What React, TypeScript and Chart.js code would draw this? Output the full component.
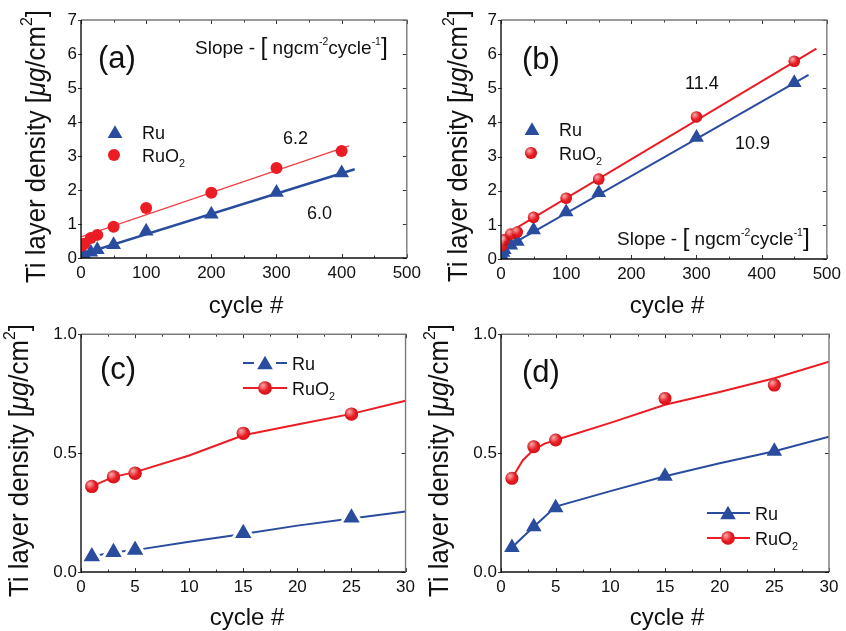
import React, { useEffect, useRef } from 'react';
import { Chart, registerables } from 'chart.js';
Chart.register(...registerables);

const BLUE = '#2a4c9e';
const RED = '#ec1c24';
const FAMILY = "'Liberation Sans', Arial, sans-serif";

// ---------- Panel (a) ----------
const cyclesA = [1, 3, 5, 15, 25, 50, 100, 200, 300, 400];
const ruA = [0.07, 0.08, 0.09, 0.17, 0.24, 0.39, 0.79, 1.29, 1.93, 2.5];
const ruo2A = [0.36, 0.4, 0.42, 0.59, 0.68, 0.92, 1.47, 1.92, 2.65, 3.15];
const fitRuCyclesA = [0, 420];
const fitRuA = [0.1, 2.61];
const fitRuo2CyclesA = [0, 411];
const fitRuo2A = [0.62, 3.3];

// ---------- Panel (b) ----------
const cyclesB = [1, 3, 5, 15, 25, 50, 100, 150, 300, 450];
const ruB = [0.1, 0.19, 0.27, 0.4, 0.51, 0.85, 1.38, 1.94, 3.56, 5.16];
const ruo2B = [0.39, 0.53, 0.56, 0.73, 0.79, 1.22, 1.78, 2.34, 4.16, 5.79];
const fitRuCyclesB = [0, 472];
const fitRuB = [0.25, 5.39];
const fitRuo2CyclesB = [0, 484];
const fitRuo2B = [0.64, 6.16];

// ---------- Panel (c) ----------
const cyclesC = [1, 3, 5, 15, 25];
const ruC = [0.065, 0.083, 0.092, 0.163, 0.228];
const ruo2C = [0.36, 0.4, 0.415, 0.583, 0.664];
const fitCyclesC = [1, 3, 5, 10, 15, 20, 25, 30];
const fitRuC = [0.065, 0.083, 0.092, 0.127, 0.16, 0.195, 0.225, 0.254];
const fitRuo2C = [0.36, 0.4, 0.42, 0.49, 0.575, 0.62, 0.665, 0.72];

// ---------- Panel (d) ----------
const cyclesD = [1, 3, 5, 15, 25];
const ruD = [0.103, 0.19, 0.27, 0.403, 0.508];
const ruo2D = [0.394, 0.527, 0.555, 0.73, 0.786];
const fitCyclesD = [1, 2, 3, 4, 5, 10, 15, 20, 25, 30];
const fitRuD = [0.103, 0.147, 0.19, 0.232, 0.275, 0.34, 0.403, 0.457, 0.508, 0.569];
const fitRuo2D = [0.394, 0.47, 0.515, 0.54, 0.555, 0.627, 0.703, 0.757, 0.815, 0.884];

// tick labels
const xTicksAB = [0, 100, 200, 300, 400, 500];
const yTicksAB = [0, 1, 2, 3, 4, 5, 6, 7];
const xTicksCD = [0, 5, 10, 15, 20, 25, 30];
const yTicksCD = ['0.0', '0.5', '1.0'];

type Seg = { t: string; k?: number; dy?: number; it?: boolean };

const fnt = (size: number, it?: boolean) => `${it ? 'italic ' : ''}${size}px ${FAMILY}`;

function richWidth(ctx: CanvasRenderingContext2D, segs: Seg[], size: number) {
  let w = 0;
  for (const s of segs) {
    ctx.font = fnt(size * (s.k ?? 1), s.it);
    w += ctx.measureText(s.t).width;
  }
  return w;
}

function drawRich(ctx: CanvasRenderingContext2D, x: number, y: number, segs: Seg[], size: number, align = 'left') {
  const w = richWidth(ctx, segs, size);
  let cx = align === 'center' ? x - w / 2 : align === 'right' ? x - w : x;
  ctx.textBaseline = 'alphabetic';
  ctx.textAlign = 'left';
  for (const s of segs) {
    ctx.font = fnt(size * (s.k ?? 1), s.it);
    ctx.fillText(s.t, cx, y + (s.dy ?? 0) * size);
    cx += ctx.measureText(s.t).width;
  }
}

const ruo2Segs: Seg[] = [{ t: 'RuO' }, { t: '2', k: 0.6, dy: 0.32 }];
const ruSegs: Seg[] = [{ t: 'Ru' }];
const slopeSegs: Seg[] = [
  { t: 'Slope - ' },
  { t: '[', k: 1.3, dy: 0.08 },
  { t: ' ngcm' },
  { t: '-2', k: 0.55, dy: -0.45 },
  { t: 'cycle' },
  { t: '-1', k: 0.55, dy: -0.45 },
  { t: ']', k: 1.3, dy: 0.08 },
];
const yTitleSegs: Seg[] = [
  { t: 'Ti layer density [' },
  { t: 'μg', it: true },
  { t: '/cm' },
  { t: '2', k: 0.62, dy: -0.48 },
  { t: ']' },
];

function triPath(ctx: CanvasRenderingContext2D, x: number, y: number, r: number) {
  const s = Math.sin(Math.PI * 2 / 3) * r;
  ctx.beginPath();
  ctx.moveTo(x, y - r);
  ctx.lineTo(x + s, y + r / 2);
  ctx.lineTo(x - s, y + r / 2);
  ctx.closePath();
}

function sphereHighlight(ctx: CanvasRenderingContext2D, x: number, y: number, r: number) {
  ctx.save();
  ctx.beginPath();
  ctx.arc(x, y, r, 0, Math.PI * 2);
  ctx.clip();
  const g = ctx.createRadialGradient(x - r * 0.35, y - r * 0.4, 0, x - r * 0.35, y - r * 0.4, r * 0.9);
  g.addColorStop(0, 'rgba(255,200,200,0.85)');
  g.addColorStop(1, 'rgba(255,200,200,0)');
  ctx.fillStyle = g;
  ctx.fillRect(x - r, y - r, 2 * r, 2 * r);
  const g2 = ctx.createRadialGradient(x, y, r * 0.5, x, y, r);
  g2.addColorStop(0, 'rgba(150,0,0,0)');
  g2.addColorStop(1, 'rgba(150,0,0,0.35)');
  ctx.fillStyle = g2;
  ctx.fillRect(x - r, y - r, 2 * r, 2 * r);
  ctx.restore();
}

type Legend = { type: 'tri' | 'circ'; x: number; y: number; r: number; color: string; segs: Seg[]; tx: number; line?: [number, number]; lw?: number; gap?: number };
type Txt = { x: number; y: number; segs: Seg[]; size: number };

type PanelCfg = {
  left: number; top: number; w: number; h: number;
  pl: number; pr: number; pt: number; pb: number;
  xMin: number; xMax: number; xMajor: number; xMinor: number; xTicks: (number | string)[];
  yMin: number; yMax: number; yMajor: number; yTicks: (number | string)[];
  datasets: any[];
  texts: Txt[];
  legends: Legend[];
  yTitle: { bx: number; by: number; len: number };
  xTitle: { cx: number; by: number };
  sphere: boolean;
};

function makeDecor(cfg: PanelCfg) {
  return {
    id: 'decor',
    afterDatasetsDraw(chart: any) {
      if (!cfg.sphere) return;
      const ctx = chart.ctx;
      const ca = chart.chartArea;
      ctx.save();
      ctx.beginPath();
      ctx.rect(ca.left, ca.top, ca.right - ca.left, ca.bottom - ca.top);
      ctx.clip();
      chart.data.datasets.forEach((ds: any, i: number) => {
        if (!ds.sphere) return;
        const meta = chart.getDatasetMeta(i);
        meta.data.forEach((p: any) => sphereHighlight(ctx, p.x, p.y, ds.pointRadius));
      });
      ctx.restore();
    },
    afterDraw(chart: any) {
      const ctx: CanvasRenderingContext2D = chart.ctx;
      const ca = chart.chartArea;
      const xs = chart.scales.x;
      const ys = chart.scales.y;
      ctx.save();
      // ticks
      ctx.lineWidth = 1;
      ctx.strokeStyle = '#333';
      const nX = Math.round((cfg.xMax - cfg.xMin) / cfg.xMinor);
      for (let i = 0; i <= nX; i++) {
        const v = cfg.xMin + i * cfg.xMinor;
        const px = Math.round(xs.getPixelForValue(v)) + 0.5;
        const major = Math.abs(v / cfg.xMajor - Math.round(v / cfg.xMajor)) < 1e-6;
        const len = major ? 4 : 2.5;
        ctx.beginPath();
        ctx.moveTo(px, ca.bottom); ctx.lineTo(px, ca.bottom - len);
        ctx.moveTo(px, ca.top); ctx.lineTo(px, ca.top + len);
        ctx.stroke();
      }
      const nY = Math.round((cfg.yMax - cfg.yMin) / cfg.yMajor);
      for (let i = 0; i <= nY; i++) {
        const v = cfg.yMin + i * cfg.yMajor;
        const py = Math.round(ys.getPixelForValue(v)) + 0.5;
        ctx.beginPath();
        ctx.moveTo(ca.left - 3, py); ctx.lineTo(ca.left + 1, py);
        ctx.moveTo(ca.right, py); ctx.lineTo(ca.right - 4, py);
        ctx.stroke();
      }
      // frame
      ctx.lineWidth = 1.4;
      ctx.strokeStyle = '#7a7a7a';
      ctx.beginPath();
      ctx.moveTo(ca.left, ca.top); ctx.lineTo(ca.right, ca.top); ctx.lineTo(ca.right, ca.bottom);
      ctx.stroke();
      ctx.strokeStyle = '#111';
      ctx.beginPath();
      ctx.moveTo(ca.left, ca.top); ctx.lineTo(ca.left, ca.bottom); ctx.lineTo(ca.right, ca.bottom);
      ctx.stroke();

      ctx.fillStyle = '#111';
      // x title
      drawRich(ctx, cfg.xTitle.cx, cfg.xTitle.by, [{ t: 'cycle #' }], 24, 'center');
      // y title
      ctx.save();
      ctx.translate(cfg.yTitle.bx, cfg.yTitle.by);
      ctx.rotate(-Math.PI / 2);
      const size = 27;
      const w = richWidth(ctx, yTitleSegs, size);
      ctx.scale(cfg.yTitle.len / w, 1);
      drawRich(ctx, 0, 0, yTitleSegs, size, 'left');
      ctx.restore();
      // texts
      for (const t of cfg.texts) drawRich(ctx, t.x, t.y, t.segs, t.size, 'left');
      // legends
      for (const l of cfg.legends) {
        if (l.line) {
          ctx.strokeStyle = l.color;
          ctx.lineWidth = l.lw ?? 2;
          const g = l.gap ?? 0;
          ctx.beginPath();
          if (g > 0) {
            ctx.moveTo(l.line[0], l.y); ctx.lineTo(l.x - g, l.y);
            ctx.moveTo(l.x + g, l.y); ctx.lineTo(l.line[1], l.y);
          } else {
            ctx.moveTo(l.line[0], l.y); ctx.lineTo(l.line[1], l.y);
          }
          ctx.stroke();
        }
        ctx.fillStyle = l.color;
        if (l.type === 'tri') {
          triPath(ctx, l.x, l.y + l.r * 0.2, l.r);
          ctx.fill();
        } else {
          ctx.beginPath();
          ctx.arc(l.x, l.y, l.r, 0, Math.PI * 2);
          ctx.fill();
          if (cfg.sphere) sphereHighlight(ctx, l.x, l.y, l.r);
        }
        ctx.fillStyle = '#111';
        drawRich(ctx, l.tx, l.y + 6.5, l.segs, 18, 'left');
      }
      ctx.restore();
    },
  };
}

function pts(xs: number[], ys: number[]) {
  return xs.map((x, i) => ({ x, y: ys[i] }));
}

function markerSet(xs: number[], ys: number[], color: string, style: string, r: number, sphere = false, order = 0, halo = 0) {
  return {
    data: pts(xs, ys),
    showLine: false,
    pointStyle: style,
    pointRadius: r + halo,
    pointBackgroundColor: color,
    pointBorderWidth: halo,
    pointBorderColor: halo > 0 ? '#ffffff' : color,
    order,
    sphere,
  };
}

function lineSet(xs: number[], ys: number[], color: string, width: number) {
  return {
    data: pts(xs, ys),
    showLine: true,
    borderColor: color,
    borderWidth: width,
    pointRadius: 0,
    fill: false,
    tension: 0,
    order: 5,
  };
}

const panels: PanelCfg[] = [
  {
    left: 0, top: 0, w: 426, h: 320,
    pl: 81, pr: 408, pt: 20, pb: 258,
    xMin: 0, xMax: 500, xMajor: 100, xMinor: 50, xTicks: xTicksAB,
    yMin: 0, yMax: 7, yMajor: 1, yTicks: yTicksAB,
    datasets: [
      markerSet(cyclesA, ruo2A, RED, 'circle', 6, false, 0),
      markerSet(cyclesA, ruA, BLUE, 'triangle', 8.5, false, 1),
      lineSet(fitRuCyclesA, fitRuA, BLUE, 2.4),
      lineSet(fitRuo2CyclesA, fitRuo2A, '#f03c44', 1.3),
    ],
    texts: [
      { x: 98, y: 68, segs: [{ t: '(a)' }], size: 31 },
      { x: 195, y: 53.5, segs: slopeSegs, size: 19 },
      { x: 283, y: 143.5, segs: [{ t: '6.2' }], size: 18 },
      { x: 307, y: 218.5, segs: [{ t: '6.0' }], size: 18 },
    ],
    legends: [
      { type: 'tri', x: 115, y: 132, r: 8.5, color: BLUE, segs: ruSegs, tx: 142 },
      { type: 'circ', x: 114, y: 155, r: 6, color: RED, segs: ruo2Segs, tx: 142 },
    ],
    yTitle: { bx: 45, by: 283, len: 273 },
    xTitle: { cx: 246, by: 313 },
    sphere: false,
  },
  {
    left: 420, top: 0, w: 426, h: 320,
    pl: 81, pr: 409, pt: 20, pb: 259,
    xMin: 0, xMax: 500, xMajor: 100, xMinor: 50, xTicks: xTicksAB,
    yMin: 0, yMax: 7, yMajor: 1, yTicks: yTicksAB,
    datasets: [
      markerSet(cyclesB, ruo2B, RED, 'circle', 5.8, true, 0),
      markerSet(cyclesB, ruB, BLUE, 'triangle', 8.5, false, 1),
      lineSet(fitRuCyclesB, fitRuB, BLUE, 2),
      lineSet(fitRuo2CyclesB, fitRuo2B, RED, 2),
    ],
    texts: [
      { x: 102, y: 69, segs: [{ t: '(b)' }], size: 31 },
      { x: 265, y: 88.5, segs: [{ t: '11.4' }], size: 18 },
      { x: 315, y: 148.5, segs: [{ t: '10.9' }], size: 18 },
      { x: 197, y: 244.5, segs: slopeSegs, size: 19 },
    ],
    legends: [
      { type: 'tri', x: 112, y: 129, r: 8.5, color: BLUE, segs: ruSegs, tx: 139 },
      { type: 'circ', x: 111, y: 153, r: 6, color: RED, segs: ruo2Segs, tx: 139 },
    ],
    yTitle: { bx: 47, by: 282, len: 272 },
    xTitle: { cx: 247, by: 313 },
    sphere: true,
  },
  {
    left: 0, top: 320, w: 420, h: 311,
    pl: 81, pr: 409, pt: 14, pb: 252,
    xMin: 0, xMax: 30, xMajor: 5, xMinor: 2.5, xTicks: xTicksCD,
    yMin: 0, yMax: 1, yMajor: 0.5, yTicks: yTicksCD,
    datasets: [
      markerSet(cyclesC, ruo2C, RED, 'circle', 6.7, true, 0),
      markerSet(cyclesC, ruC, BLUE, 'triangle', 9.5, false, 1, 3),
      lineSet(fitCyclesC, fitRuC, BLUE, 2),
      lineSet(fitCyclesC, fitRuo2C, RED, 2),
    ],
    texts: [{ x: 100, y: 59, segs: [{ t: '(c)' }], size: 31 }],
    legends: [
      { type: 'tri', x: 265, y: 43, r: 9, color: BLUE, segs: ruSegs, tx: 292, line: [243, 287], gap: 11 },
      { type: 'circ', x: 265, y: 68, r: 6.8, color: RED, segs: ruo2Segs, tx: 292, line: [243, 287] },
    ],
    yTitle: { bx: 28, by: 277, len: 273 },
    xTitle: { cx: 247, by: 305 },
    sphere: true,
  },
  {
    left: 420, top: 320, w: 426, h: 311,
    pl: 81, pr: 409, pt: 14, pb: 252,
    xMin: 0, xMax: 30, xMajor: 5, xMinor: 2.5, xTicks: xTicksCD,
    yMin: 0, yMax: 1, yMajor: 0.5, yTicks: yTicksCD,
    datasets: [
      markerSet(cyclesD, ruo2D, RED, 'circle', 6.5, true, 0),
      markerSet(cyclesD, ruD, BLUE, 'triangle', 9, false, 1),
      lineSet(fitCyclesD, fitRuD, BLUE, 2),
      lineSet(fitCyclesD, fitRuo2D, RED, 2),
    ],
    texts: [{ x: 102, y: 62, segs: [{ t: '(d)' }], size: 31 }],
    legends: [
      { type: 'tri', x: 308, y: 193, r: 9, color: BLUE, segs: ruSegs, tx: 335, line: [287, 330] },
      { type: 'circ', x: 308, y: 218, r: 6.8, color: RED, segs: ruo2Segs, tx: 335, line: [287, 330] },
    ],
    yTitle: { bx: 28, by: 277, len: 273 },
    xTitle: { cx: 247, by: 305 },
    sphere: true,
  },
];

function Panel({ cfg }: { cfg: PanelCfg }) {
  const ref = useRef<HTMLCanvasElement | null>(null);
  useEffect(() => {
    if (!ref.current) return;
    const chart = new Chart(ref.current, {
      type: 'scatter',
      data: { datasets: cfg.datasets },
      options: {
        responsive: false,
        animation: false,
        events: [],
        layout: { autoPadding: false, padding: { left: 0, bottom: 0, top: cfg.pt, right: cfg.w - cfg.pr } },
        plugins: { legend: { display: false }, tooltip: { enabled: false } },
        scales: {
          x: {
            type: 'linear',
            min: cfg.xMin,
            max: cfg.xMax,
            afterFit: (s: any) => { s.height = cfg.h - cfg.pb; },
            afterBuildTicks: (s: any) => { s.ticks = cfg.xTicks.map((v) => ({ value: Number(v) })); },
            ticks: {
              color: '#111',
              font: { family: FAMILY, size: 17 },
              padding: 5,
              maxRotation: 0,
              autoSkip: false,
              callback: (v: any) => String(cfg.xTicks.find((t) => Number(t) === Number(v)) ?? v),
            },
            grid: { display: false, drawTicks: false },
            border: { display: false },
          },
          y: {
            type: 'linear',
            min: cfg.yMin,
            max: cfg.yMax,
            afterFit: (s: any) => { s.width = cfg.pl; },
            afterBuildTicks: (s: any) => { s.ticks = cfg.yTicks.map((v) => ({ value: Number(v) })); },
            ticks: {
              color: '#111',
              font: { family: FAMILY, size: 17 },
              padding: 4,
              autoSkip: false,
              callback: (v: any) => String(cfg.yTicks.find((t) => Number(t) === Number(v)) ?? v),
            },
            grid: { display: false, drawTicks: false },
            border: { display: false },
          },
        },
      } as any,
      plugins: [makeDecor(cfg)],
    });
    return () => chart.destroy();
  }, [cfg]);
  return (
    <canvas
      ref={ref}
      width={cfg.w}
      height={cfg.h}
      style={{ position: 'absolute', left: cfg.left, top: cfg.top, width: cfg.w, height: cfg.h }}
    />
  );
}

export default function App() {
  return (
    <div style={{ position: 'absolute', left: 0, top: 0, width: 846, height: 631, background: '#fff', overflow: 'hidden' }}>
      {panels.map((p, i) => (
        <Panel key={i} cfg={p} />
      ))}
    </div>
  );
}
